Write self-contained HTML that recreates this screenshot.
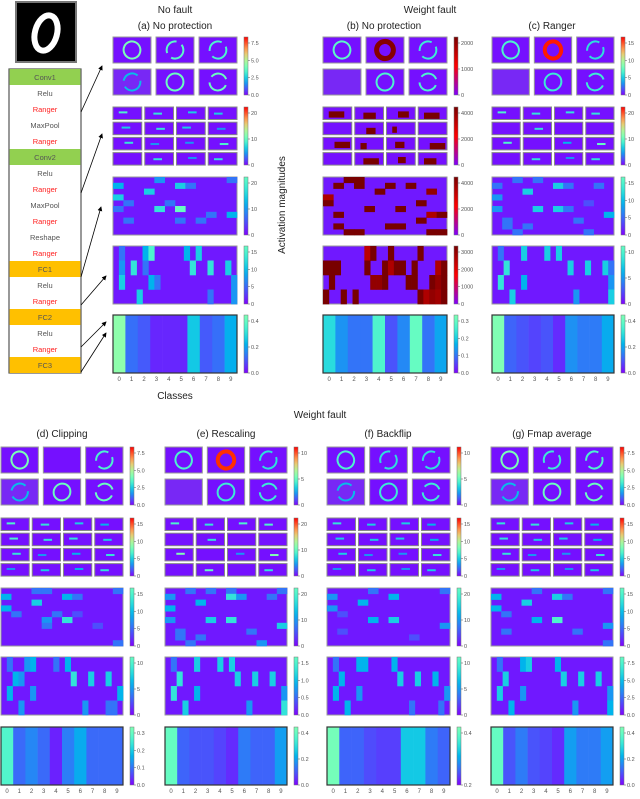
<!DOCTYPE html>
<html><head><meta charset="utf-8"><style>
body{margin:0;background:#fff;}
svg text{font-family:"Liberation Sans",sans-serif;}
</style></head><body>
<svg id="fig" width="640" height="794" viewBox="0 0 640 794" xmlns="http://www.w3.org/2000/svg">
<rect width="640" height="794" fill="#fff"/>
</svg>
<script>
// ---------- data ----------
const classLabels = ["0","1","2","3","4","5","6","7","8","9"];
const layerNames = ["Conv1","Relu","Ranger","MaxPool","Ranger","Conv2","Relu","Ranger","MaxPool","Ranger","Reshape","Ranger","FC1","Relu","Ranger","FC2","Relu","Ranger","FC3"];
const panelIds = ["a","b","c","d","e","f","g"];
const panelTitles = ["(a) No protection","(b) No protection","(c) Ranger","(d) Clipping","(e) Rescaling","(f) Backflip","(g) Fmap average"];
const outA = [0.55,0.15,0.12,0.05,0.05,0.05,0.30,0.12,0.15,0.25];
const outB = [0.22,0.13,0.10,0.10,0.27,0.07,0.12,0.30,0.10,0.15];
const outC = [0.47,0.12,0.10,0.08,0.10,0.05,0.18,0.15,0.15,0.22];
const outD = [0.30,0.10,0.13,0.10,0.03,0.12,0.17,0.10,0.10,0.10];
const outE = [0.42,0.12,0.10,0.10,0.08,0.05,0.15,0.12,0.12,0.20];
const outF = [0.30,0.08,0.08,0.06,0.05,0.05,0.18,0.18,0.10,0.08];
const outG = [0.42,0.10,0.15,0.10,0.08,0.05,0.20,0.15,0.15,0.20];
const outMax = [0.5,0.32,0.45,0.35,0.45,0.3,0.45];
const hmA = [[0,4,.4],[0,11,.3],[1,0,.5],[1,6,.6],[1,7,.3],[2,3,.6],[3,0,.6],[4,1,.3],[4,5,.3],[5,0,.3],[5,4,.7],[5,6,.9],[6,11,.5],[7,1,.3],[7,6,.3],[7,8,.3],[6,9,.3]];
const hmB = [[0,2,1],[0,3,1],[1,1,1],[1,3,1],[1,6,1],[1,8,1],[2,5,1],[2,10,.8],[3,0,.6],[4,0,1],[4,9,1],[5,4,1],[5,7,1],[6,1,1],[6,10,.6],[6,11,1],[7,9,1],[8,1,1],[8,6,1],[8,7,1],[9,2,1],[9,3,1],[9,11,1],[9,10,1]];
const hmC = [[0,2,.3],[0,4,.3],[1,0,.3],[1,6,.6],[1,7,.3],[1,10,.3],[2,3,.6],[3,0,.4],[4,9,.2],[5,0,.4],[5,4,.6],[5,6,.6],[5,7,.3],[6,11,.5],[7,1,.3],[7,8,.3],[8,1,.3],[8,3,.3],[9,2,.3],[9,9,.3]];
const hmD = [[0,3,.3],[0,4,.3],[0,11,.3],[1,0,.5],[1,6,.5],[1,7,.3],[2,3,.6],[3,0,.5],[4,1,.3],[4,5,.3],[4,7,.2],[5,4,.4],[5,6,.7],[6,4,.3],[6,9,.2],[9,11,.3]];
const hmE = [[0,2,.3],[0,4,.3],[0,6,.3],[0,11,.3],[1,0,.4],[1,6,.7],[1,7,.4],[1,10,.3],[2,3,.5],[3,0,.5],[5,0,.4],[5,4,.6],[5,6,.7],[6,11,.6],[7,1,.3],[7,8,.3],[8,1,.3],[8,3,.3],[9,2,.3],[9,9,.4]];
const hmF = [[0,4,.3],[0,11,.3],[1,0,.4],[1,6,.5],[2,3,.5],[3,0,.4],[4,1,.2],[5,4,.5],[5,6,.6],[6,11,.4],[7,1,.2],[8,8,.2]];
const hmG = [[0,4,.3],[0,11,.3],[1,0,.5],[1,6,.6],[1,7,.3],[2,3,.6],[3,0,.5],[4,1,.3],[5,4,.5],[5,6,.8],[6,11,.4],[7,1,.3],[7,8,.3],[9,11,.3]];
const fcA = [[0,1,.3],[0,5,.5],[0,6,.8],[0,12,.5],[0,14,.6],[1,1,.4],[1,3,.7],[1,5,.3],[1,13,.7],[1,16,.7],[1,19,.6],[2,1,.6],[2,6,.5],[2,7,.3],[2,20,.4],[3,4,.6],[3,16,.3],[3,20,.4]];
const fcB = [[0,7,.5],[0,8,1],[0,11,1],[0,16,1],[1,0,1],[1,1,1],[1,2,1],[1,7,1],[1,10,1],[1,11,.6],[1,12,1],[1,13,1],[1,15,1],[1,19,.6],[1,20,1],[2,1,1],[2,8,.8],[2,9,.8],[2,10,1],[2,14,1],[2,15,1],[2,18,1],[2,19,.8],[2,20,1],[3,0,1],[3,3,1],[3,5,1],[3,16,1],[3,17,.6],[3,18,.8],[3,19,.7],[3,20,1]];
const fcC = [[0,1,.3],[0,5,.6],[0,9,.6],[0,11,.6],[1,2,.7],[1,13,.6],[1,16,.6],[1,19,.6],[1,20,.3],[2,1,.7],[2,5,.5],[2,20,.4],[3,3,.6],[3,14,.4],[3,20,.6]];
const fcD = [[0,1,.3],[0,4,.4],[0,5,.5],[0,9,.3],[0,11,.5],[1,2,.5],[1,3,.4],[1,12,.7],[1,15,.6],[1,18,.6],[2,1,.5],[2,5,.4],[2,20,.5],[3,3,.4],[3,14,.4],[3,18,.3],[3,19,.3]];
const fcE = [[0,1,.3],[0,5,.6],[0,9,.6],[0,11,.6],[1,2,.7],[1,12,.6],[1,15,.6],[1,18,.6],[2,1,.7],[2,5,.5],[2,20,.4],[3,3,.6],[3,14,.4],[3,20,.7]];
const fcF = [[0,1,.3],[0,5,.5],[0,6,.5],[0,11,.5],[1,2,.5],[1,12,.6],[1,15,.6],[1,18,.5],[2,1,.5],[2,5,.4],[2,20,.4],[3,3,.5],[3,14,.3],[3,19,.3]];
const fcG = [[0,1,.3],[0,5,.5],[0,6,.6],[0,11,.5],[1,2,.6],[1,12,.6],[1,15,.6],[1,18,.6],[2,1,.6],[2,5,.4],[2,20,.4],[3,3,.5],[3,14,.4],[3,20,.5]];
const c1A = [.8,.6,.5,.05,.7,.7];
const c1B = [.6,1,.4,.03,.5,.5];
const c1C = [.5,1,.3,.03,.4,.4];
const c1D = [.8,0,.5,.05,.7,.7];
const c1E = [.5,1,.3,.03,.4,.4];
const c1F = [.5,.3,.3,.05,.4,.4];
const c1G = [.8,.4,.5,.05,.7,.7];
const c2A = [.6,.5,.4,.4,.4,.5,.4,.2,.5,.2,.2,.6,.1,.5,.2,.5];
const c2B = [1,.8,.7,1,0,.6,.3,0,1,.4,.6,1,0,1,.5,.8];
const c2C = [.6,.5,.5,.5,.1,.5,.1,.1,.6,.1,.3,.7,.1,.5,.2,.5];
const c2D = [.6,.5,.4,.3,.6,.5,.5,.4,.5,.2,.3,.5,.2,.4,.3,.5];
const c2E = [.6,.5,.6,.6,.1,.5,.1,.1,.8,.1,.2,.8,.1,.7,.1,.5];
const c2F = [.5,.4,.4,.3,.4,.4,.4,.3,.4,.2,.2,.5,.2,.4,.2,.4];
const c2G = [.5,.5,.4,.3,.5,.4,.4,.3,.5,.2,.2,.5,.2,.4,.2,.4];
const ticksA = [["7.5","5.0","2.5","0.0"],["20","10","0"],["20","10","0"],["15","10","5","0"],["0.4","0.2","0.0"]];
const ticksB = [["2000","1000","0"],["4000","2000","0"],["4000","2000","0"],["3000","2000","1000","0"],["0.3","0.2","0.1","0.0"]];
const ticksC = [["15","10","5","0"],["20","10","0"],["15","10","5","0"],["10","5","0"],["0.4","0.2","0.0"]];
const ticksD = [["7.5","5.0","2.5","0.0"],["15","10","5","0"],["15","10","5","0"],["10","5","0"],["0.3","0.2","0.1","0.0"]];
const ticksE = [["10","5","0"],["20","10","0"],["20","10","0"],["1.5","1.0","0.5","0.0"],["0.4","0.2","0.0"]];
const ticksF = [["10","5","0"],["15","10","5","0"],["20","10","0"],["10","5","0"],["0.4","0.2"]];
const ticksG = [["7.5","5.0","2.5","0.0"],["15","10","5","0"],["15","10","5","0"],["7.5","5.0","2.5","0.0"],["0.4","0.2","0.0"]];

const outs=[outA,outB,outC,outD,outE,outF,outG];
const hms=[hmA,hmB,hmC,hmD,hmE,hmF,hmG];
const fcs=[fcA,fcB,fcC,fcD,fcE,fcF,fcG];
const c1s=[c1A,c1B,c1C,c1D,c1E,c1F,c1G];
const c2s=[c2A,c2B,c2C,c2D,c2E,c2F,c2G];
const ticks=[ticksA,ticksB,ticksC,ticksD,ticksE,ticksF,ticksG];

const NS="http://www.w3.org/2000/svg";
const svg=document.getElementById("fig");
function mk(tag,attrs,parent){const e=document.createElementNS(NS,tag);for(const k in attrs)e.setAttribute(k,attrs[k]);(parent||svg).appendChild(e);return e;}
function rainbow(t){t=Math.max(0,Math.min(1,t));const r=Math.min(1,Math.abs(2*t-0.5)),g=Math.sin(Math.PI*t),b=Math.cos(Math.PI*t/2);return `rgb(${Math.round(r*255)},${Math.round(g*255)},${Math.round(b*255)})`;}
function hot(t){t=Math.max(0,Math.min(1,t));if(t<0.5){const u=t/0.5;return `rgb(${Math.round(128+127*u)},0,${Math.round(255*(1-u))})`;}const u=(t-0.5)/0.5;return `rgb(${Math.round(255-135*u)},0,0)`;}
function txt(x,y,s,size,attrs,name,parent){const t=mk("text",Object.assign({x:x,y:y,"font-size":size},attrs||{}),parent);t.textContent=s;return t;}

const panelX=[113,323,492,1,165,327,491];
const panelW=[124,124,122,122,122,123,122];
const topRows=[37,107,177,246,315];
const botRows=[447,518,588,657,727];
const RH=58;

function drawPanel(p){
  const x0=panelX[p],W=panelW[p];
  const rows=p<3?topRows:botRows;
  const cm=p===1?hot:rainbow;
  const g=mk("g",{});
  
  
  const mw=(W-10)/3, mh=26;
  for(let i=0;i<6;i++){
    const cx=x0+(i%3)*(mw+5), cy=rows[0]+Math.floor(i/3)*(mh+6);
    const m=mk("rect",{x:cx,y:cy,width:mw,height:mh,fill:i===3?"rgb(120,40,245)":rainbow(0.02),stroke:"#999","stroke-width":1},g);
    
    
    const v=c1s[p][i];
    if(v>0.04){
      const fault=(i===1&&(p===1||p===2||p===4));
      const col=p===1&&fault?hot(0.95):p===2&&fault?"#ff1a00":p===4&&fault?"#ff3000":rainbow(0.25+v*0.3);
      const e=mk("ellipse",{cx:cx+mw/2,cy:cy+mh/2,rx:mw*0.22,ry:mh*0.33,fill:"none",
        stroke:col,"stroke-width":fault?(p===1?5:4):2,transform:`rotate(${-20+i*15} ${cx+mw/2} ${cy+mh/2})`,
        "stroke-dasharray":(i===0||i===4||fault)?"none":"18 6"},g);
      
      
    }
  }
  const sw=(W-9)/4, sh=12.5;
  for(let i=0;i<16;i++){
    const cx=x0+(i%4)*(sw+3), cy=rows[1]+Math.floor(i/4)*(sh+2.7);
    const m=mk("rect",{x:cx,y:cy,width:sw,height:sh,fill:rainbow(0.02),stroke:"#888","stroke-width":1},g);
    
    
    const v=c2s[p][i];
    if(v>0.15){
      const l=mk("rect",{x:cx+sw*(0.2+0.1*(i%3)),y:cy+sh*(0.35+0.1*(i%2)),width:sw*0.3*(p===1?v*1.8:1),height:p===1?sh*0.5:2,fill:p===1?hot(1):rainbow(v*0.5+0.1)},g);
      
      
    }
  }
  const nc3=12,nr3=10;
  const bg3=mk("rect",{x:x0,y:rows[2],width:W,height:RH,fill:rainbow(0.03),stroke:"#999","stroke-width":1},g);
  
  
  hms[p].forEach(c=>{
    const r=mk("rect",{x:x0+c[1]*W/nc3,y:rows[2]+c[0]*RH/nr3,width:W/nc3+0.3,height:RH/nr3+0.3,fill:p===1?hot(0.5+c[2]*0.5):rainbow(c[2]*0.5)},g);
    
    
  });
  const nc4=21,nr4=4;
  const bg4=mk("rect",{x:x0,y:rows[3],width:W,height:RH,fill:rainbow(0.03),stroke:"#999","stroke-width":1},g);
  
  
  fcs[p].forEach(c=>{
    const r=mk("rect",{x:x0+c[1]*W/nc4,y:rows[3]+c[0]*RH/nr4,width:W/nc4+0.3,height:RH/nr4+0.3,fill:p===1?hot(0.5+c[2]*0.5):rainbow(c[2]*0.5)},g);
    
    
  });
  const cw=W/10;
  outs[p].forEach((v,i)=>{
    const r=mk("rect",{x:x0+i*cw,y:rows[4],width:cw+0.3,height:RH,fill:rainbow(v/outMax[p]*0.48)},g);
    
    
    txt(x0+i*cw+cw/2,rows[4]+RH+8,classLabels[i],6,{"text-anchor":"middle",fill:"#555"},'class-tick',g);
  });
  const fr=mk("rect",{x:x0,y:rows[4],width:W,height:RH,fill:"none",stroke:"#333","stroke-width":1.2},g);
  
  
  const cbx=x0+W+7;
  rows.forEach((ry,ri)=>{
    const gid="grad"+p+"_"+ri;
    const lg=mk("linearGradient",{id:gid,x1:0,y1:1,x2:0,y2:0},g);
    const topT = ri===4 ? 0.5 : (ri===2||ri===3) ? 0.45 : 1;
    for(let k=0;k<=10;k++){mk("stop",{offset:k/10,"stop-color":(p===1&&ri<4)?hot(k/10):rainbow(k/10*topT)},lg);}
    const cb=mk("rect",{x:cbx,y:ry,width:4,height:RH,fill:`url(#${gid})`,stroke:"#777","stroke-width":0.5},g);
    
    
    const tl=ticks[p][ri];
    tl.forEach((s,k)=>{
      const ty=ry+RH-k/(Math.max(tl.length-1,1))*(RH-6);
      const rev=tl[tl.length-1-k];
      mk("line",{x1:cbx+4,y1:ty,x2:cbx+6,y2:ty,stroke:"#555","stroke-width":0.5},g);
      txt(cbx+7,ty+2,rev,5.5,{fill:"#555"},'colorbar-tick',g);
    });
  });
}
for(let p=0;p<7;p++)drawPanel(p);

const T=[[175,13,"No fault",10],[430,13,"Weight fault",10],[320,418,"Weight fault",10]];
T.forEach(t=>txt(t[0],t[1],t[2],t[3],{"text-anchor":"middle",fill:"#222"},'group-title'));
const titleX=[175,384,552,62,226,388,552];
panelTitles.forEach((s,i)=>txt(titleX[i],i<3?29:437,s,10,{"text-anchor":"middle",fill:"#222"},'panel-title-'+panelIds[i]));
txt(175,399,"Classes",10,{"text-anchor":"middle",fill:"#222"},'x-axis-title');
txt(0,0,"Activation magnitudes",10,{"text-anchor":"middle",fill:"#222",transform:"translate(285,205) rotate(-90)"},'y-axis-title');

const dg=mk("rect",{x:16,y:2,width:60,height:60,fill:"#000",stroke:"#777","stroke-width":2});


const ds=mk("ellipse",{cx:46,cy:33,rx:11,ry:18,fill:"none",stroke:"#fff","stroke-width":6,transform:"rotate(15 46 33)"});



const lb=mk("rect",{x:9,y:69,width:72,height:304,fill:"#fff",stroke:"#555","stroke-width":1.2});


const rh=304/19;
layerNames.forEach((n,i)=>{
  const y=69+i*rh;
  const fill=n.startsWith("Conv")?"#92d050":n.startsWith("FC")?"#ffc000":null;
  if(fill){const r=mk("rect",{x:9.6,y:y,width:70.8,height:rh,fill:fill});}
  txt(45,y+rh/2+3,n,7.5,{"text-anchor":"middle",fill:n==="Ranger"?"#ff2020":"#555"},'layer-'+n.toLowerCase());
});

mk("defs",{}).innerHTML='<marker id="ah" markerWidth="6" markerHeight="6" refX="5" refY="3" orient="auto"><path d="M0,0 L6,3 L0,6 z" fill="#000"/></marker>';
const arrows=[[81,112,102,66],[81,193,102,134],[81,277,101,207],[81,305,106,276],[81,347,106,322],[81,372,106,333]];
arrows.forEach(a=>{const l=mk("line",{x1:a[0],y1:a[1],x2:a[2],y2:a[3],stroke:"#000","stroke-width":0.8,"marker-end":"url(#ah)"});});
</script>
</body></html>
